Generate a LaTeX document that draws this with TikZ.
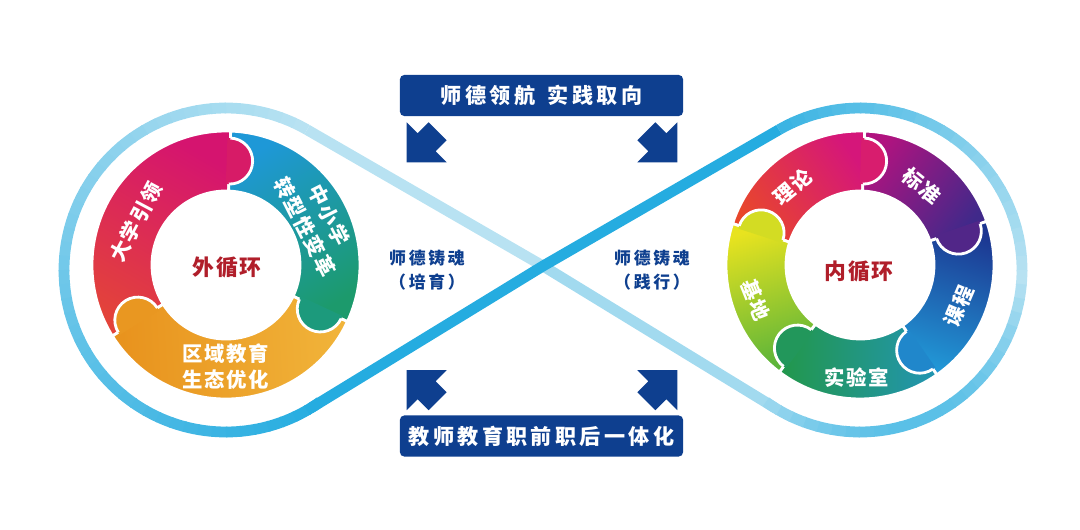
\documentclass[tikz,border=0pt]{standalone}
\usepackage{fontspec}
\usepackage{tikz}
\usetikzlibrary{calc}
\usetikzlibrary{positioning}
\newfontfamily\cjk{Noto Sans CJK SC}[LetterSpace=8]
\newfontfamily\cjkwide{Noto Sans CJK SC}[LetterSpace=16]
\definecolor{navy}{HTML}{0E3F8F}
\definecolor{hubred}{HTML}{B01E2A}
\definecolor{bandL}{HTML}{B8E2F2}
\definecolor{bandD}{HTML}{25ACE0}
\definecolor{uniRed}{HTML}{E3433A}
\definecolor{uniMag}{HTML}{D5146F}
\definecolor{schBlue}{HTML}{1E98D7}
\definecolor{schGreen}{HTML}{1C9A6C}
\definecolor{regLight}{HTML}{F1B43A}
\definecolor{regDark}{HTML}{E8921D}
\definecolor{theRed}{HTML}{E8472B}
\definecolor{theMag}{HTML}{D5167A}
\definecolor{stdPur}{HTML}{B0137F}
\definecolor{stdInd}{HTML}{40298A}
\definecolor{crsNavy}{HTML}{1C3590}
\definecolor{crsBlue}{HTML}{2196D5}
\definecolor{labTeal}{HTML}{2295B2}
\definecolor{labGreen}{HTML}{22974B}
\definecolor{basGreen}{HTML}{5BB43A}
\definecolor{basYel}{HTML}{E8E31F}
\def\ringseg(#1)(#2:#3)(#4,#5){ \pgfmathsetmacro\shang{(#2+#3)/2-180}
  \shade[bottom color=#4, top color=#5, shading angle=\shang, draw=white, line width=2pt] ($(#1)+(#2:134)$) arc (#2:#3:134) -- ($(#1)+(#3:74)$) arc (#3:#2:74) -- cycle }
\def\ringcap(#1)(#2)(#3){ \fill[#3, shift={($(#1)+(#2:104)$)}, rotate=#2] (23,3) -- (23,0) arc (0:-180:23) -- (-23,3) -- cycle;
  \draw[white, line width=2pt, shift={($(#1)+(#2:104)$)}, rotate=#2] (23,0) arc (0:-180:23) }
\def\cornerarrow(#1)[#2]{ \fill[navy, shift={(#1)}, rotate=#2] (0,0) -- (0,40) -- (11,29) -- (22,40) -- (40,22) -- (29,11) -- (40,0) -- cycle }
\tikzstyle{band} = [line width=0.27cm]
\tikzstyle{segtext} = [font=\fontsize{14.5pt}{18.5pt}\selectfont\cjk\bfseries, text=white, align=center, inner sep=0pt]
\tikzstyle{hub} = [font=\fontsize{15.5pt}{18pt}\selectfont\cjk\bfseries, text=hubred, inner sep=0pt]
\tikzstyle{mid} = [font=\fontsize{12pt}{17.5pt}\selectfont\cjkwide\bfseries, text=navy, align=center, inner sep=0pt]
\tikzstyle{banner} = [fill=navy, rounded corners=3pt, minimum width=7.075cm, minimum height=1.025cm, font=\fontsize{15pt}{18pt}\selectfont\cjkwide\bfseries, text=white]
\begin{document}
\begin{tikzpicture}[x=0.025cm, y=0.025cm]
    \useasboundingbox (0,0) rectangle (1080,529);
    \coordinate (lobeL) at (226,259);
    \coordinate (lobeR) at (860,259);
    \coordinate (cross) at (543,263);
    \coordinate (tLu) at ($(lobeL)+(60:162)$);
    \coordinate (tLd) at ($(lobeL)+(-58.55:162)$);
    \coordinate (tRu) at ($(lobeR)+(120:162)$);
    \coordinate (tRd) at ($(lobeR)+(238.55:162)$);

    % figure-eight band
    \draw[band, bandL] (cross) -- (tLu);
    \draw[band, bandD!15!bandL] (tRd) -- (cross);
    \foreach \a in {60,65,...,300} {
        \pgfmathtruncatemacro\m{(\a-60)/2.4}
        \draw[band, bandD!\m!bandL] ($(lobeL)+(\a:162)$) arc (\a:\a+5.5:162);
    }
    \foreach \a in {120,115,...,-120} {
        \pgfmathtruncatemacro\m{(\a)>0 ? 85*(\a)/120 : 65*sin((-1.33)*(\a))}
        \draw[band, bandD!\m!bandL] ($(lobeR)+(\a:162)$) arc (\a:\a-5.5:162);
    }
    \draw[band, bandD, line join=round] (tLd) -- (cross) -- (tRu);

    % outer cycle
    \coordinate (lc) at (226,264);
    \ringseg(lc)(212:88)(uniRed,uniMag);
    \ringseg(lc)(88:-25)(schBlue,schGreen);
    \ringseg(lc)(-25:-148)(regLight,regDark);
    \ringcap(lc)(88)(uniMag!85!uniRed);
    \ringcap(lc)(-25)(schGreen!85!schBlue);
    \ringcap(lc)(-148)(regDark!85!regLight);

    % inner cycle
    \coordinate (rc) at (860,264);
    \ringseg(rc)(162:88)(theRed,theMag);
    \ringseg(rc)(88:19)(stdPur,stdInd);
    \ringseg(rc)(19:-55)(crsNavy,crsBlue);
    \ringseg(rc)(-55:-127)(labTeal,labGreen);
    \ringseg(rc)(233:162)(basGreen,basYel);
    \ringcap(rc)(88)(theMag!85!theRed);
    \ringcap(rc)(19)(stdInd!85!stdPur);
    \ringcap(rc)(-55)(crsBlue!85!crsNavy);
    \ringcap(rc)(-127)(labGreen!85!labTeal);
    \ringcap(rc)(162)(basYel!85!basGreen);

    \node[segtext, rotate=62] (uni) at (136,307) {大学引领};
    \node[segtext, rotate=-63] (school) at (317,308) {中小学\\转型性变革};
    \node[segtext] (region) at (226,162) {区域教育\\生态优化};
    \node[hub] (outer) at (227,262) {外循环};

    \node[segtext, rotate=40] (theory) at (793,342) {理论};
    \node[segtext, rotate=-39] (standard) at (922,343) {标准};
    \node[segtext, rotate=67] (course) at (959,223) {课程};
    \node[segtext] (lab) at (857,151) {实验室};
    \node[segtext, rotate=-68] (base) at (756,229) {基地};
    \node[hub] (inner) at (859,258) {内循环};

    \node[mid] (forgeL) at (427,259) {师德铸魂\\（培育）};
    \node[mid] (forgeR) at (652,259) {师德铸魂\\（践行）};

    % banners and arrows
    \node[banner] (lead) at (541.5,433.5) {师德领航\hspace{0.6em}实践取向};
    \node[banner] (unify) at (541.5,93) {教师教育职前职后一体化};
    \cornerarrow($(lead.south west)+(7,-46)$)[0];
    \cornerarrow($(lead.south east)+(-6,-46)$)[90];
    \cornerarrow($(unify.north east)+(-6,45)$)[180];
    \cornerarrow($(unify.north west)+(7,45)$)[270];
\end{tikzpicture}
\end{document}
